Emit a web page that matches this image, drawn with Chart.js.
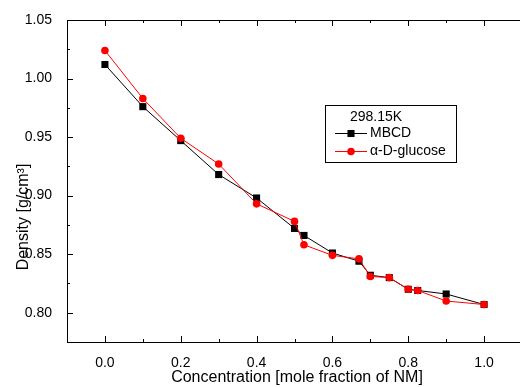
<!DOCTYPE html>
<html>
<head>
<meta charset="utf-8">
<script src="https://cdn.jsdelivr.net/npm/chart.js@4"></script>
<style>
  html, body { margin: 0; padding: 0; background: #fff; overflow: hidden; }
</style>
</head>
<body>
<canvas id="densityChart" width="527" height="387"></canvas>
<script>
// mole fraction of NM and density (g/cm3) at 298.15K
const concentration = [0, 0.1, 0.2, 0.3, 0.4, 0.5, 0.525, 0.6, 0.67, 0.7, 0.75, 0.8, 0.825, 0.9, 1.0];
const mbcdDensity = [1.012, 0.976, 0.947, 0.918, 0.898, 0.872, 0.866, 0.851, 0.844, 0.832, 0.830, 0.820, 0.819, 0.816, 0.807];
const glucoseDensity = [1.024, 0.983, 0.949, 0.927, 0.893, 0.878, 0.858, 0.849, 0.846, 0.831, 0.830, 0.820, 0.819, 0.810, 0.807];
const seriesNames = ['MBCD', 'α-D-glucose'];
const legendTitle = '298.15K';
const xTitle = 'Concentration [mole fraction of NM]';
const yTitle = 'Density [g/cm³]';

const FONT = 'Liberation Sans, Arial, sans-serif';

// frame with inward ticks, like the original Origin plot
const frameTicks = {
    id: 'frameTicks',
    afterDraw(chart) {
        const { ctx, chartArea: a, scales: { x, y } } = chart;
        ctx.save();
        ctx.strokeStyle = '#000';
        ctx.lineWidth = 1;
        ctx.strokeRect(a.left + 0.5, a.top + 0.5, a.right - a.left, a.bottom - a.top);
        ctx.beginPath();
        x.ticks.forEach(t => {
            const px = Math.round(x.getPixelForValue(t.value)) + 0.5;
            const len = t.label ? 6 : 3;
            ctx.moveTo(px, a.bottom); ctx.lineTo(px, a.bottom - len);
            ctx.moveTo(px, a.top); ctx.lineTo(px, a.top + len);
        });
        y.ticks.forEach(t => {
            const py = Math.round(y.getPixelForValue(t.value)) + 0.5;
            const len = t.label ? 6 : 3;
            ctx.moveTo(a.left, py); ctx.lineTo(a.left + len, py);
        });
        ctx.stroke();

        // axis titles
        ctx.fillStyle = '#000';
        ctx.font = '16px ' + FONT;
        ctx.textAlign = 'center';
        ctx.textBaseline = 'middle';
        ctx.fillText(xTitle, 297, 378);
        ctx.translate(24, 217);
        ctx.rotate(-Math.PI / 2);
        ctx.fillText(yTitle, 0, 0);
        ctx.restore();
    }
};

// boxed legend inside the plot
const boxLegend = {
    id: 'boxLegend',
    afterDraw(chart) {
        const { ctx } = chart;
        ctx.save();
        ctx.fillStyle = '#fff';
        ctx.fillRect(325, 105, 131, 57);
        ctx.strokeStyle = '#000';
        ctx.lineWidth = 1;
        ctx.strokeRect(325.5, 105.5, 131, 57);
        ctx.font = '14px ' + FONT;
        ctx.textBaseline = 'middle';
        ctx.textAlign = 'left';
        ctx.fillStyle = '#000';
        ctx.fillText(legendTitle, 350, 117);

        const rows = [133, 151];
        chart.data.datasets.forEach((ds, i) => {
            const yy = rows[i] + 0.5;
            ctx.strokeStyle = ds.borderColor;
            ctx.beginPath();
            ctx.moveTo(335, yy); ctx.lineTo(367, yy);
            ctx.stroke();
            ctx.fillStyle = ds.pointBackgroundColor;
            Chart.helpers.drawPoint(ctx, {
                pointStyle: ds.pointStyle, radius: ds.pointRadius, borderWidth: 0, rotation: 0
            }, 351, yy);
            ctx.fillStyle = '#000';
            ctx.fillText(seriesNames[i], 370, yy);
        });
        ctx.restore();
    }
};

const toPoints = vals => concentration.map((c, i) => ({ x: c, y: vals[i] }));

new Chart(document.getElementById('densityChart').getContext('2d'), {
    type: 'line',
    data: {
        datasets: [{
            label: seriesNames[0],
            data: toPoints(mbcdDensity),
            borderColor: '#000',
            borderWidth: 1,
            pointStyle: 'rect',
            pointRadius: 5,
            pointBorderWidth: 0,
            pointBackgroundColor: '#000',
            order: 2
        }, {
            label: seriesNames[1],
            data: toPoints(glucoseDensity),
            borderColor: '#ff0000',
            borderWidth: 1,
            pointStyle: 'circle',
            pointRadius: 3.8,
            pointBorderWidth: 0,
            pointBackgroundColor: '#ff0000',
            order: 1
        }]
    },
    options: {
        responsive: false,
        animation: false,
        layout: { padding: { top: 20, left: 0, right: 0, bottom: 0 } },
        plugins: { legend: { display: false }, tooltip: { enabled: false } },
        scales: {
            x: {
                type: 'linear',
                min: -0.1,
                max: 1.1,
                grid: { display: false },
                border: { display: false },
                afterFit: s => { s.height = 45; },
                ticks: {
                    stepSize: 0.1,
                    padding: 5,
                    color: '#000',
                    font: { family: FONT, size: 14 },
                    maxRotation: 0,
                    autoSkip: false,
                    callback: v => {
                        const k = Math.round(v * 10);
                        return (k >= 0 && k <= 10 && k % 2 === 0) ? (k / 10).toFixed(1) : '';
                    }
                }
            },
            y: {
                min: 0.775,
                max: 1.05,
                grid: { display: false },
                border: { display: false },
                afterFit: s => { s.width = 67; },
                ticks: {
                    stepSize: 0.025,
                    padding: 7,
                    color: '#000',
                    font: { family: FONT, size: 14 },
                    autoSkip: false,
                    callback: v => {
                        const k = Math.round(v * 1000);
                        return k % 50 === 0 ? (k / 1000).toFixed(2) : '';
                    }
                }
            }
        }
    },
    plugins: [frameTicks, boxLegend]
});
</script>
</body>
</html>
